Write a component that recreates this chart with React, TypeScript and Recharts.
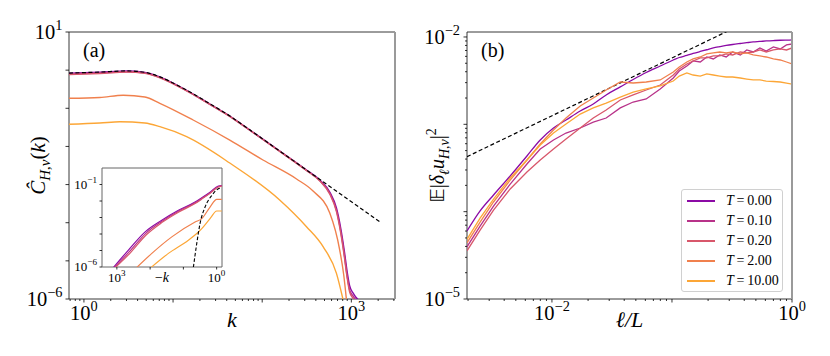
import React from 'react';
import { LineChart, Line, XAxis, YAxis, ReferenceArea, ReferenceLine, CartesianGrid, Legend } from 'recharts';

const SERIF = 'Liberation Serif, Times New Roman, Times, serif';

// ---------- panel (a): spectra ----------
const kMain = [0.679, 1.51, 3.01, 4.83, 7.11, 11.0, 16.8, 25.9, 39.8, 72.6, 157, 314, 443, 573, 681, 760, 832, 899, 959, 1045, 1119, 1189];
const specT000 = [0.826, 0.877, 0.948, 0.867, 0.661, 0.407, 0.237, 0.129, 0.0708, 0.027, 0.00759, 0.00241, 0.00132, 6.38e-4, 2.43e-4, 7.26e-5, 1.92e-5, 5.09e-6, 2.19e-6, 1.44e-6, 1.13e-6, 9.7e-7];
const specT010 = [0.79, 0.84, 0.91, 0.84, 0.645, 0.4, 0.233, 0.127, 0.07, 0.0267, 0.0075, 0.00236, 0.00127, 5.9e-4, 2.1e-4, 6.0e-5, 1.5e-5, 3.9e-6, 1.7e-6, 1.2e-6, 9.5e-7, 8e-7];
const specT020 = [0.77, 0.82, 0.89, 0.82, 0.63, 0.395, 0.23, 0.126, 0.0695, 0.0265, 0.00745, 0.00233, 0.00124, 5.6e-4, 1.95e-4, 5.4e-5, 1.35e-5, 3.5e-6, 1.5e-6, 1.05e-6, 8.5e-7, 7e-7];
const kT2 = [0.679, 1.51, 2.76, 4.83, 7.11, 16.8, 43.3, 102, 243, 372, 573, 741, 822, 881];
const specT200 = [0.183, 0.192, 0.219, 0.198, 0.135, 0.0493, 0.0147, 0.00441, 0.0014, 6.78e-4, 1.79e-4, 1.92e-5, 4.26e-6, 9.7e-7];
const kT10 = [0.679, 1.51, 2.53, 4.83, 7.11, 14.2, 43.3, 157, 314, 482, 681, 807];
const specT1000 = [0.038, 0.0411, 0.0445, 0.0411, 0.0329, 0.018, 0.00367, 3.94e-4, 7.85e-5, 2.35e-5, 4.71e-6, 9.7e-7];
const kTheory = [0.679, 1.51, 3.01, 4.83, 7.11, 11.0, 16.8, 25.9, 39.8, 72.6, 157, 314, 741, 2080];
const specTheory = [0.84, 0.89, 0.955, 0.875, 0.665, 0.41, 0.24, 0.131, 0.0715, 0.0272, 0.0076, 0.00241, 5.83e-4, 1.06e-4];

// inset (reversed k axis)
const kInT000 = [1265, 449, 141, 44.6, 14.1, 4.46, 2.8, 1.58, 0.889, 0.703];
const inT000 = [9.5e-7, 1.06e-5, 1.34e-4, 6.78e-4, 2.72e-3, 8.59e-3, 0.0158, 0.0344, 0.079, 0.087];
const kInT010 = [1180, 420, 135, 44.6, 14.1, 4.46, 2.8, 1.58, 0.889, 0.703];
const inT010 = [9.5e-7, 8.5e-6, 1.1e-4, 5.8e-4, 2.4e-3, 7.7e-3, 0.0142, 0.031, 0.073, 0.082];
const kInT020 = [1100, 400, 130, 44.6, 14.1, 4.46, 2.8, 1.58, 0.889, 0.703];
const inT020 = [9.5e-7, 7e-6, 9e-5, 4.9e-4, 2.1e-3, 7e-3, 0.013, 0.029, 0.07, 0.08];
const kInT200 = [251, 88.9, 22.3, 4.46, 2.8, 1.58, 0.993, 0.703];
const inT200 = [9.5e-7, 6.68e-6, 6.68e-5, 5.36e-4, 8.59e-4, 4.3e-3, 0.0125, 0.0125];
const kInT1000 = [93.3, 28.2, 7.08, 3.96, 2.8, 1.58, 0.993, 0.703];
const inT1000 = [9.5e-7, 6.68e-6, 4.24e-5, 1.07e-4, 2.14e-4, 8.59e-4, 2.47e-3, 2.47e-3];
const kInTheory = [5.01, 3.96, 3.16, 2.23, 1.4, 0.889, 0.703];
const inTheory = [9.5e-7, 2.68e-5, 4.3e-4, 4.3e-3, 0.0217, 0.0551, 0.0632];

// ---------- panel (b): structure functions ----------
const ellLeft = [0.00196, 0.00252, 0.00326, 0.00449, 0.00619, 0.00799, 0.0103, 0.0131, 0.0172, 0.0221, 0.0283, 0.0371, 0.0475, 0.061, 0.0798];
const ellRight = [0.1025, 0.115, 0.133, 0.15, 0.172, 0.195, 0.221, 0.25, 0.283, 0.32, 0.371, 0.42, 0.475, 0.54, 0.61, 0.7, 0.798, 0.9, 1.0];
const sfT000 = [6.0e-5, 1.02e-4, 1.55e-4, 2.56e-4, 4.34e-4, 6.61e-4, 9.07e-4, 1.12e-3, 1.42e-3, 1.71e-3, 2.17e-3, 2.68e-3, 3.26e-3, 3.92e-3, 4.65e-3,
  5.45e-3, 5.82e-3, 6.14e-3, 6.47e-3, 6.82e-3, 7.14e-3, 7.48e-3, 7.74e-3, 7.99e-3, 8.2e-3, 8.42e-3, 8.6e-3, 8.77e-3, 8.88e-3, 9.0e-3, 9.1e-3, 9.17e-3, 9.21e-3, 9.24e-3];
const sfT010 = [3.96e-5, 6.84e-5, 1.16e-4, 2.07e-4, 3.51e-4, 5.21e-4, 6.61e-4, 7.95e-4, 9.07e-4, 1.06e-3, 1.18e-3, 1.54e-3, 1.8e-3, 1.95e-3, 2.54e-3,
  3.39e-3, 4.08e-3, 4.65e-3, 5.31e-3, 5.17e-3, 5.9e-3, 5.6e-3, 6.22e-3, 5.9e-3, 6.73e-3, 6.22e-3, 7.1e-3, 6.73e-3, 7.48e-3, 6.91e-3, 7.68e-3, 7.29e-3, 8.1e-3, 8.31e-3];
const sfT020 = [3.56e-5, 6.15e-5, 1.04e-4, 1.82e-4, 2.84e-4, 3.9e-4, 5.21e-4, 6.79e-4, 9.07e-4, 1.18e-3, 1.46e-3, 1.9e-3, 2.17e-3, 2.47e-3, 2.82e-3,
  3.67e-3, 4.3e-3, 4.91e-3, 5.31e-3, 5.75e-3, 5.75e-3, 6.06e-3, 6.06e-3, 6.39e-3, 6.22e-3, 6.73e-3, 6.56e-3, 6.73e-3, 7.1e-3, 6.73e-3, 7.1e-3, 7.29e-3, 7.1e-3, 7.48e-3];
const sfT200 = [4.4e-5, 7.6e-5, 1.29e-4, 2.3e-4, 3.9e-4, 5.95e-4, 8.6e-4, 1.18e-3, 1.62e-3, 2.0e-3, 2.47e-3, 3.05e-3, 2.97e-3, 3.05e-3, 3.22e-3,
  3.97e-3, 4.53e-3, 5.17e-3, 5.6e-3, 5.9e-3, 6.39e-3, 6.56e-3, 6.73e-3, 6.56e-3, 6.73e-3, 6.39e-3, 6.56e-3, 6.22e-3, 6.06e-3, 5.9e-3, 5.6e-3, 5.45e-3, 5.17e-3, 4.91e-3];
const sfT1000 = [4.82e-5, 8.45e-5, 1.39e-4, 2.43e-4, 3.9e-4, 5.79e-4, 7.95e-4, 1.01e-3, 1.31e-3, 1.54e-3, 1.75e-3, 2.05e-3, 2.34e-3, 2.54e-3, 2.75e-3,
  3.13e-3, 3.57e-3, 3.87e-3, 3.67e-3, 3.57e-3, 3.77e-3, 3.67e-3, 3.57e-3, 3.48e-3, 3.48e-3, 3.39e-3, 3.3e-3, 3.22e-3, 3.22e-3, 3.13e-3, 3.09e-3, 3.05e-3, 2.97e-3, 2.89e-3];
const ellTheory = [0.00196, 0.3];
const sfTheory = [4.26e-4, 0.0119];

// ---------- series / ticks ----------
const temps = ['0.00', '0.10', '0.20', '2.00', '10.00'];
const colors = ['#8b0aa5', '#b83289', '#d8576b', '#f0804d', '#fca636'];

const kTicks = [0.7, 0.8, 0.9, 1, 2, 3, 4, 5, 6, 7, 8, 9, 10, 20, 30, 40, 50, 60, 70, 80, 90, 100, 200, 300, 400, 500, 600, 700, 800, 900, 1000, 2000, 3000];
const specTicks = [1e-6, 1e-5, 1e-4, 1e-3, 1e-2, 1e-1, 1, 10];
const insetKTicks = [1, 10, 100, 1000];
const insetTicks = [1e-6, 1e-5, 1e-4, 1e-3, 1e-2, 1e-1];
const ellTicks = [0.002, 0.003, 0.004, 0.005, 0.006, 0.007, 0.008, 0.009, 0.01, 0.02, 0.03, 0.04, 0.05, 0.06, 0.07, 0.08, 0.09, 0.1, 0.2, 0.3, 0.4, 0.5, 0.6, 0.7, 0.8, 0.9, 1];
const sfTicks = [1e-5, 2e-5, 3e-5, 4e-5, 5e-5, 6e-5, 7e-5, 8e-5, 9e-5, 1e-4, 2e-4, 3e-4, 4e-4, 5e-4, 6e-4, 7e-4, 8e-4, 9e-4, 1e-3, 2e-3, 3e-3, 4e-3, 5e-3, 6e-3, 7e-3, 8e-3, 9e-3, 1e-2];

const zip = (xs: number[], ys: number[]) => xs.map((x, i) => ({ x, v: ys[i] }));
const ellGrid = [...ellLeft, ...ellRight];

const specSeries = [
  zip(kMain, specT000),
  zip(kMain, specT010),
  zip(kMain, specT020),
  zip(kT2, specT200),
  zip(kT10, specT1000),
];
const insetSeries = [
  zip(kInT000, inT000),
  zip(kInT010, inT010),
  zip(kInT020, inT020),
  zip(kInT200, inT200),
  zip(kInT1000, inT1000),
];
const sfSeries = [sfT000, sfT010, sfT020, sfT200, sfT1000].map((ys) => zip(ellGrid, ys));

// ---------- tick helpers ----------
const isDecade = (v: number) => Math.abs(Math.log10(v) - Math.round(Math.log10(v))) < 1e-6;
const isLabeled = (v: number, labeled: number[]) => labeled.some((l) => Math.abs(l - v) / l < 1e-6);
const supText = (e: number) => (e < 0 ? '\u2212' + Math.abs(e) : String(e));

type TickOpts = { labeled: number[]; fs: number; major: number; minor: number; off: number };

const Pow = ({ v, fs }: { v: number; fs: number }) => (
  <>
    10<tspan dy={-fs * 0.45} fontSize={fs * 0.7}>{supText(Math.round(Math.log10(v)))}</tspan>
  </>
);

const makeXTick = (o: TickOpts) => (props: any) => {
  const { x, y, payload } = props;
  const v = payload.value;
  const len = isDecade(v) ? o.major : o.minor;
  return (
    <g>
      <line x1={x} x2={x} y1={y} y2={y + len} stroke="#000" strokeWidth={0.8} />
      {isLabeled(v, o.labeled) && (
        <text x={x} y={y + o.off} textAnchor="middle" fontFamily={SERIF} fontSize={o.fs} fill="#000">
          <Pow v={v} fs={o.fs} />
        </text>
      )}
    </g>
  );
};

const makeYTick = (o: TickOpts) => (props: any) => {
  const { x, y, payload } = props;
  const v = payload.value;
  const len = isDecade(v) ? o.major : o.minor;
  return (
    <g>
      <line x1={x - len} x2={x} y1={y} y2={y} stroke="#000" strokeWidth={0.8} />
      {isLabeled(v, o.labeled) && (
        <text x={x - o.off} y={y + o.fs * 0.33} textAnchor="end" fontFamily={SERIF} fontSize={o.fs} fill="#000">
          <Pow v={v} fs={o.fs} />
        </text>
      )}
    </g>
  );
};

const panelTag = (tag: string) => (p: any) => {
  const vb = p.viewBox;
  return (
    <text x={vb.x + 14} y={vb.y + 25} fontFamily={SERIF} fontSize={20} fill="#000">
      {tag}
    </text>
  );
};

const LegendBox = () => (
  <div
    style={{
      width: 102,
      height: 103,
      border: '1px solid #d0d0d0',
      borderRadius: 3,
      background: 'rgba(255,255,255,0.8)',
      fontFamily: SERIF,
      fontSize: 14,
      boxSizing: 'border-box',
      paddingTop: 1,
      color: '#000',
      whiteSpace: 'nowrap',
    }}
  >
    {temps.map((t, i) => (
      <div key={t} style={{ display: 'flex', alignItems: 'center', height: 20 }}>
        <div style={{ width: 28, height: 1.6, background: colors[i], marginLeft: 5, marginRight: 11, flexShrink: 0 }} />
        <span>
          <i>T</i>{'\u2009=\u2009'}{t}
        </span>
      </div>
    ))}
  </div>
);

export default function App() {
  return (
    <div style={{ position: 'absolute', left: 0, top: 0, width: 830, height: 356, background: '#fff' }}>
      {/* panel (a) */}
      <div style={{ position: 'absolute', left: 0, top: 0 }}>
        <LineChart width={415} height={356} margin={{ top: 32, right: 20, bottom: 27, left: 29 }}>
          <XAxis
            type="number"
            dataKey="x"
            scale="log"
            domain={[0.68, 3090]}
            allowDataOverflow
            ticks={kTicks}
            interval={0}
            height={30}
            tickSize={0}
            tickMargin={0}
            axisLine={false}
            tickLine={false}
            tick={makeXTick({ labeled: [1, 1000], fs: 20.5, major: 3.5, minor: 2, off: 21 })}
            label={{
              content: (p: any) => (
                <text x={p.viewBox.x + p.viewBox.width / 2} y={p.viewBox.y + 28} textAnchor="middle" fontFamily={SERIF} fontSize={22} fontStyle="italic">
                  k
                </text>
              ),
            }}
          />
          <YAxis
            type="number"
            dataKey="v"
            scale="log"
            domain={[1e-6, 10]}
            allowDataOverflow
            ticks={specTicks}
            interval={0}
            width={40}
            tickSize={0}
            tickMargin={0}
            axisLine={false}
            tickLine={false}
            tick={makeYTick({ labeled: [1e-6, 10], fs: 20.5, major: 3.5, minor: 2, off: 6.5 })}
            label={{
              content: (p: any) => (
                <text transform={`translate(${p.viewBox.x + 16},${p.viewBox.y + p.viewBox.height / 2}) rotate(-90)`} textAnchor="middle" fontFamily={SERIF} fontSize={21}>
                  <tspan fontStyle="italic">Ĉ</tspan>
                  <tspan dy={5} fontSize={15} fontStyle="italic">H</tspan>
                  <tspan fontSize={15}>,</tspan>
                  <tspan fontSize={15} fontStyle="italic">ν</tspan>
                  <tspan dy={-5}>(</tspan>
                  <tspan fontStyle="italic">k</tspan>)
                </text>
              ),
            }}
          />
          {specSeries.map((d, i) => (
            <Line key={temps[i]} data={d} dataKey="v" type="monotone" stroke={colors[i]} strokeWidth={1.4} dot={false} isAnimationActive={false} />
          ))}
          <Line data={zip(kTheory, specTheory)} dataKey="v" type="monotone" stroke="#000" strokeWidth={1.2} strokeDasharray="4 2.5" dot={false} isAnimationActive={false} />
          <ReferenceLine x={3090} stroke="#9a9a9a" strokeWidth={2} ifOverflow="visible" />
          <ReferenceArea x1={0.68} x2={3090} y1={1e-6} y2={10} fill="none" stroke="#222" strokeWidth={0.9} ifOverflow="visible" label={{ content: panelTag('(a)') }} />
        </LineChart>
      </div>

      {/* inset of panel (a) */}
      <div style={{ position: 'absolute', left: 62, top: 140 }}>
        <LineChart width={170} height={150} margin={{ top: 28, right: 10, bottom: 3, left: 10 }}>
          <CartesianGrid horizontal={false} vertical={false} fill="#fff" fillOpacity={1} />
          <XAxis
            type="number"
            dataKey="x"
            scale="log"
            reversed
            domain={[0.69, 2800]}
            allowDataOverflow
            ticks={insetKTicks}
            interval={0}
            height={20}
            tickSize={0}
            tickMargin={0}
            axisLine={false}
            tickLine={false}
            tick={makeXTick({ labeled: [1, 1000], fs: 13, major: 2.5, minor: 1.5, off: 15 })}
            label={{
              content: (p: any) => (
                <text x={p.viewBox.x + p.viewBox.width / 2} y={p.viewBox.y + 15} textAnchor="middle" fontFamily={SERIF} fontSize={14}>
                  −<tspan fontStyle="italic">k</tspan>
                </text>
              ),
            }}
          />
          <YAxis
            type="number"
            dataKey="v"
            scale="log"
            domain={[1e-6, 1]}
            allowDataOverflow
            ticks={insetTicks}
            interval={0}
            width={30}
            tickSize={0}
            tickMargin={0}
            axisLine={false}
            tickLine={false}
            tick={makeYTick({ labeled: [1e-6, 1e-1], fs: 13, major: 2.5, minor: 1.5, off: 5 })}
          />
          {insetSeries.map((d, i) => (
            <Line key={temps[i]} data={d} dataKey="v" type="monotone" stroke={colors[i]} strokeWidth={1.2} dot={false} isAnimationActive={false} />
          ))}
          <Line data={zip(kInTheory, inTheory)} dataKey="v" type="monotone" stroke="#000" strokeWidth={1.1} strokeDasharray="3.5 2" dot={false} isAnimationActive={false} />
          <ReferenceArea x1={0.69} x2={2800} y1={1e-6} y2={1} fill="none" stroke="#666" strokeWidth={1} ifOverflow="visible" />
        </LineChart>
      </div>

      {/* panel (b) */}
      <div style={{ position: 'absolute', left: 415, top: 0 }}>
        <LineChart width={415} height={356} margin={{ top: 32, right: 38, bottom: 27, left: 12 }}>
          <XAxis
            type="number"
            dataKey="x"
            scale="log"
            domain={[0.00196, 1]}
            allowDataOverflow
            ticks={ellTicks}
            interval={0}
            height={30}
            tickSize={0}
            tickMargin={0}
            axisLine={false}
            tickLine={false}
            tick={makeXTick({ labeled: [0.01, 1], fs: 20.5, major: 3.5, minor: 2, off: 21 })}
            label={{
              content: (p: any) => (
                <text x={p.viewBox.x + p.viewBox.width / 2} y={p.viewBox.y + 28} textAnchor="middle" fontFamily={SERIF} fontSize={22} fontStyle="italic">
                  ℓ/L
                </text>
              ),
            }}
          />
          <YAxis
            type="number"
            dataKey="v"
            scale="log"
            domain={[1e-5, 0.0114]}
            allowDataOverflow
            ticks={sfTicks}
            interval={0}
            width={40}
            tickSize={0}
            tickMargin={0}
            axisLine={false}
            tickLine={false}
            tick={makeYTick({ labeled: [1e-5, 1e-2], fs: 20.5, major: 3.5, minor: 2, off: 7 })}
            label={{
              content: (p: any) => (
                <text transform={`translate(${p.viewBox.x + 17},${p.viewBox.y + p.viewBox.height / 2}) rotate(-90)`} textAnchor="middle" fontFamily={SERIF} fontSize={20}>
                  <tspan fontFamily="DejaVu Sans">𝔼</tspan>|<tspan fontStyle="italic">δ</tspan>
                  <tspan dy={5} fontSize={14} fontStyle="italic">ℓ</tspan>
                  <tspan dy={-5} fontStyle="italic">u</tspan>
                  <tspan dy={5} fontSize={14} fontStyle="italic">H</tspan>
                  <tspan fontSize={14}>,</tspan>
                  <tspan fontSize={14} fontStyle="italic">ν</tspan>
                  <tspan dy={-5}>|</tspan>
                  <tspan dy={-8} fontSize={14}>2</tspan>
                </text>
              ),
            }}
          />
          <Line data={zip(ellTheory, sfTheory)} dataKey="v" type="linear" stroke="#000" strokeWidth={1.2} strokeDasharray="4 2.5" dot={false} isAnimationActive={false} />
          {sfSeries.map((d, i) => (
            <Line key={temps[i]} data={d} dataKey="v" type={i === 0 ? 'monotone' : 'linear'} stroke={colors[i]} strokeWidth={1.3} dot={false} isAnimationActive={false} />
          ))}
          <ReferenceLine x={1} stroke="#9a9a9a" strokeWidth={2} ifOverflow="visible" />
          <ReferenceArea x1={0.00196} x2={1} y1={1e-5} y2={0.0114} fill="none" stroke="#222" strokeWidth={0.9} ifOverflow="visible" label={{ content: panelTag('(b)') }} />
          <Legend
            layout="horizontal"
            verticalAlign="middle"
            align="center"
            content={() => <LegendBox />}
            wrapperStyle={{ left: 266, top: 189, width: 102, height: 103 }}
          />
        </LineChart>
      </div>
    </div>
  );
}
